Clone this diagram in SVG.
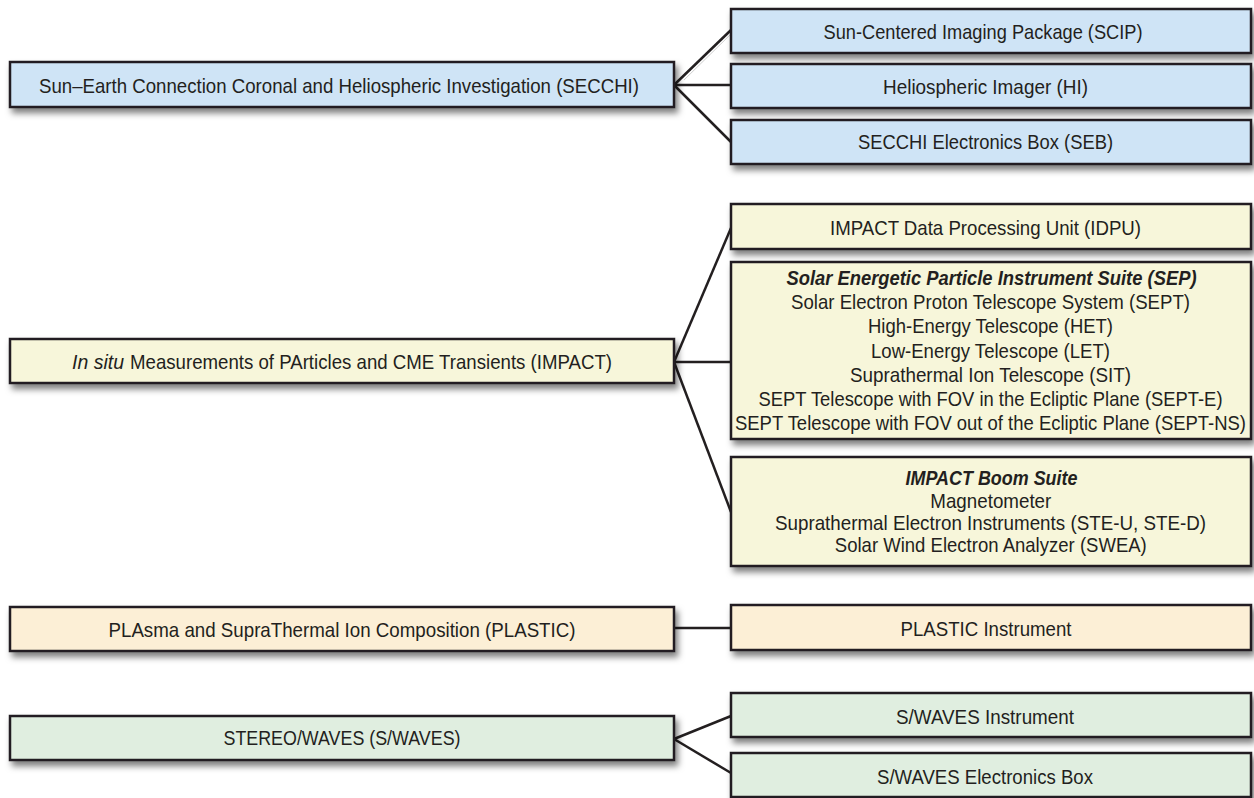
<svg xmlns="http://www.w3.org/2000/svg" width="1254" height="798" viewBox="0 0 1254 798">
<defs>
<filter id="sh" x="-5%" y="-30%" width="115%" height="170%">
<feDropShadow dx="3" dy="5" stdDeviation="3" flood-color="#000" flood-opacity="0.5"/>
</filter>
</defs>
<style>
.box { stroke:#231f20; stroke-width:2.5; filter:url(#sh); }
.secchi { fill:#cfe4f6; }
.impact { fill:#f7f6da; }
.plastic { fill:#fcefd6; }
.waves { fill:#e0eee0; }
text { font-family:"Liberation Sans Narrow","Liberation Sans",Arial,sans-serif; font-size:21px; fill:#231f20; text-anchor:middle; }
.bi { font-weight:bold; font-style:italic; }
.it { font-style:italic; }
.st { text-anchor:start; }
#connectors line { stroke:#231f20; stroke-width:2.5; }
#connectors line.faint { stroke:#cfcfcf; stroke-width:1; }
</style>
<rect width="1254" height="798" fill="#fff"/>
<g id="connectors">
<line class="faint" x1="684" y1="80" x2="731" y2="34"/>
<line x1="674" y1="85" x2="731" y2="30"/>
<line x1="674" y1="85" x2="731" y2="85"/>
<line x1="674" y1="85" x2="731" y2="142"/>
<line x1="674" y1="362" x2="731" y2="228"/>
<line x1="674" y1="362" x2="731" y2="362"/>
<line x1="674" y1="362" x2="731" y2="512"/>
<line x1="674" y1="628" x2="731" y2="628"/>
<line x1="674" y1="739" x2="731" y2="716"/>
<line x1="674" y1="739" x2="731" y2="773"/>
</g>
<g id="secchi">
<rect class="box secchi" x="10" y="62" width="664" height="45"/>
<text x="339" y="92.5" textLength="600" lengthAdjust="spacingAndGlyphs">Sun–Earth Connection Coronal and Heliospheric Investigation (SECCHI)</text>
</g>
<g id="scip">
<rect class="box secchi" x="731" y="9" width="520" height="44"/>
<text x="983" y="38.5" textLength="319" lengthAdjust="spacingAndGlyphs">Sun-Centered Imaging Package (SCIP)</text>
</g>
<g id="hi">
<rect class="box secchi" x="731" y="64" width="520" height="44"/>
<text x="985.5" y="93.5" textLength="205" lengthAdjust="spacingAndGlyphs">Heliospheric Imager (HI)</text>
</g>
<g id="seb">
<rect class="box secchi" x="731" y="120" width="520" height="44"/>
<text x="985.5" y="149" textLength="255" lengthAdjust="spacingAndGlyphs">SECCHI Electronics Box (SEB)</text>
</g>
<g id="impact">
<rect class="box impact" x="10" y="339" width="664" height="44"/>
<text class="it st" x="72" y="369" textLength="52" lengthAdjust="spacingAndGlyphs">In situ</text>
<text class="st" x="130" y="369" textLength="482" lengthAdjust="spacingAndGlyphs">Measurements of PArticles and CME Transients (IMPACT)</text>
</g>
<g id="idpu">
<rect class="box impact" x="731" y="204" width="520" height="45"/>
<text x="985.5" y="235" textLength="311" lengthAdjust="spacingAndGlyphs">IMPACT Data Processing Unit (IDPU)</text>
</g>
<g id="sep">
<rect class="box impact" x="731" y="262" width="520" height="177"/>
<text class="bi" x="991.5" y="285" textLength="410" lengthAdjust="spacingAndGlyphs">Solar Energetic Particle Instrument Suite (SEP)</text>
<text x="990.5" y="309" textLength="399" lengthAdjust="spacingAndGlyphs">Solar Electron Proton Telescope System (SEPT)</text>
<text x="990.5" y="333" textLength="245" lengthAdjust="spacingAndGlyphs">High-Energy Telescope (HET)</text>
<text x="990.5" y="357.5" textLength="239" lengthAdjust="spacingAndGlyphs">Low-Energy Telescope (LET)</text>
<text x="990.5" y="381.5" textLength="281" lengthAdjust="spacingAndGlyphs">Suprathermal Ion Telescope (SIT)</text>
<text x="990.5" y="406" textLength="464" lengthAdjust="spacingAndGlyphs">SEPT Telescope with FOV in the Ecliptic Plane (SEPT-E)</text>
<text x="990.5" y="429.5" textLength="511" lengthAdjust="spacingAndGlyphs">SEPT Telescope with FOV out of the Ecliptic Plane (SEPT-NS)</text>
</g>
<g id="boom">
<rect class="box impact" x="731" y="457" width="520" height="109"/>
<text class="bi" x="991.5" y="485" textLength="172" lengthAdjust="spacingAndGlyphs">IMPACT Boom Suite</text>
<text x="990.8" y="507.5" textLength="121" lengthAdjust="spacingAndGlyphs">Magnetometer</text>
<text x="990.5" y="530" textLength="431" lengthAdjust="spacingAndGlyphs">Suprathermal Electron Instruments (STE-U, STE-D)</text>
<text x="990.8" y="552" textLength="312" lengthAdjust="spacingAndGlyphs">Solar Wind Electron Analyzer (SWEA)</text>
</g>
<g id="plastic">
<rect class="box plastic" x="10" y="607" width="664" height="44"/>
<text x="342" y="636.5" textLength="467" lengthAdjust="spacingAndGlyphs">PLAsma and SupraThermal Ion Composition (PLASTIC)</text>
</g>
<g id="plastic-instrument">
<rect class="box plastic" x="731" y="605" width="520" height="45"/>
<text x="986" y="636" textLength="171" lengthAdjust="spacingAndGlyphs">PLASTIC Instrument</text>
</g>
<g id="swaves">
<rect class="box waves" x="10" y="716" width="664" height="44"/>
<text x="342" y="745" textLength="237" lengthAdjust="spacingAndGlyphs">STEREO/WAVES (S/WAVES)</text>
</g>
<g id="swaves-instrument">
<rect class="box waves" x="731" y="693" width="520" height="44"/>
<text x="985" y="723.5" textLength="178" lengthAdjust="spacingAndGlyphs">S/WAVES Instrument</text>
</g>
<g id="swaves-ebox">
<rect class="box waves" x="731" y="753" width="520" height="44"/>
<text x="985" y="783.5" textLength="216" lengthAdjust="spacingAndGlyphs">S/WAVES Electronics Box</text>
</g>
</svg>
